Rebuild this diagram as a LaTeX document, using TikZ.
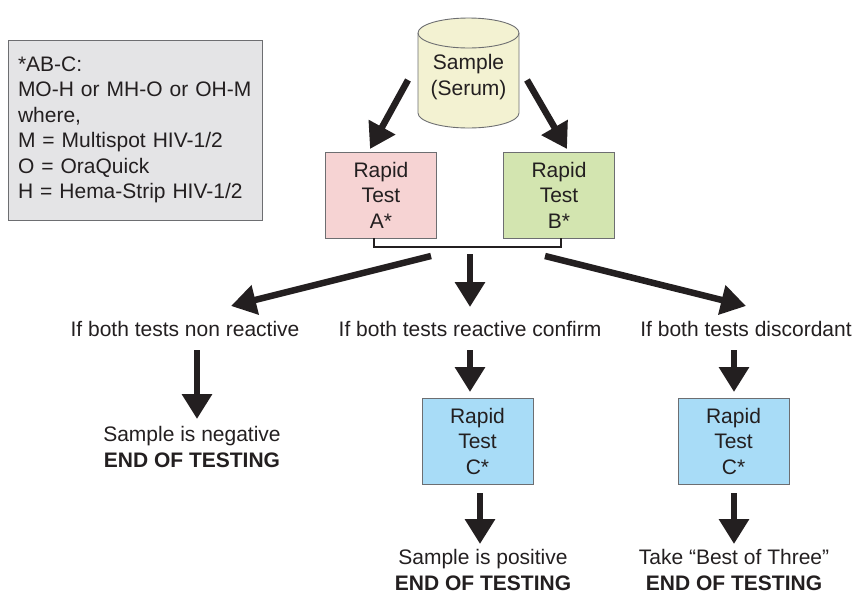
\documentclass[tikz,border=0pt]{standalone}
\usepackage{fontspec}
\setmainfont{Liberation Sans}
\usetikzlibrary{arrows.meta,calc}
\definecolor{ink}{HTML}{231F20}
\definecolor{edge}{HTML}{6D6E71}
\definecolor{legendfill}{HTML}{E4E4E6}
\definecolor{cylfill}{HTML}{F3F2D2}
\definecolor{afill}{HTML}{F6D3D3}
\definecolor{bfill}{HTML}{D3E5B0}
\definecolor{cfill}{HTML}{A8DCF7}
\tikzset{
  txt/.style={font=\fontsize{21}{25.5}\selectfont, text=ink, align=center, inner sep=0pt},
  testbox/.style={txt, draw=edge, line width=0.9pt, minimum width=111pt, minimum height=86pt},
  bigarrow/.style={draw=ink, line width=6.5pt, -{Triangle[width=29pt,length=25pt]}},
  bracketline/.style={draw=ink, line width=1.3pt}
}
\begin{document}
\begin{tikzpicture}[x=1pt,y=-1pt]
\useasboundingbox (0,0) rectangle (856,595);
% legend
\node[txt, draw=edge, line width=0.9pt, fill=legendfill, align=left, text width=234pt,
      minimum width=254pt, minimum height=180pt, inner xsep=10pt] (legend) at (135,130)
  {*AB-C:\\MO-H or MH-O or OH-M\\where,\\M = Multispot HIV-1/2\\O = OraQuick\\H = Hema-Strip HIV-1/2};
% cylinder
\filldraw[fill=cylfill, draw=edge, line width=0.9pt]
  (418,33) -- (418,113) arc[start angle=180, end angle=360, x radius=50.5pt, y radius=15pt]
  -- (519,33) arc[start angle=0, end angle=180, x radius=50.5pt, y radius=15pt] -- cycle;
\draw[draw=edge, line width=0.9pt] (418,33) arc[start angle=180, end angle=360, x radius=50.5pt, y radius=15pt];
\node[txt] (sample) at (468.5,77) {Sample\\(Serum)};
% tests A and B
\node[testbox, fill=afill] (A) at (381,195) {Rapid\\Test\\A*};
\node[testbox, fill=bfill] (B) at (559,195) {Rapid\\Test\\B*};
\coordinate (sa) at (408,80);
\coordinate (ta) at (370,149);
\coordinate (sb) at (527,80);
\coordinate (tb) at (567,149);
\draw[bigarrow] (sa) -- (ta);
\draw[bigarrow] (sb) -- (tb);
% bracket
\coordinate (bl) at (374,247);
\coordinate (br) at (561,247);
\draw[bracketline] (A.south -| bl) -- (bl) -- (br) -- (B.south -| br);
% branch labels
\node[txt] (nonreact) at (185,329) {If both tests non reactive};
\node[txt] (react) at (470,329) {If both tests reactive confirm};
\node[txt] (disc) at (746,329) {If both tests discordant};
\coordinate (s1) at (431,256);
\coordinate (t1) at (231,306);
\coordinate (s2) at (470,254);
\coordinate (t2) at (470,307);
\coordinate (s3) at (545,256);
\coordinate (t3) at (746,306);
\draw[bigarrow] (s1) -- (t1);
\draw[bigarrow] (s2) -- (t2);
\draw[bigarrow] (s3) -- (t3);
% negative outcome
\node[txt] (neg) at (192,447) {Sample is negative\\\textbf{END OF TESTING}};
\coordinate (n1) at (197,350);
\coordinate (n2) at (197,419);
\draw[bigarrow] (n1) -- (n2);
% C tests
\node[testbox, fill=cfill] (C1) at (477.5,441) {Rapid\\Test\\C*};
\node[testbox, fill=cfill] (C2) at (733.5,441) {Rapid\\Test\\C*};
\coordinate (m1) at (470,350);
\coordinate (m2) at (470,392);
\coordinate (r1) at (734,350);
\coordinate (r2) at (734,392);
\draw[bigarrow] (m1) -- (m2);
\draw[bigarrow] (r1) -- (r2);
% final outcomes
\node[txt] (pos) at (483,570) {Sample is positive\\\textbf{END OF TESTING}};
\node[txt] (best) at (734,570) {Take “Best of Three”\\\textbf{END OF TESTING}};
\coordinate (p1) at (480,493);
\coordinate (p2) at (480,544);
\coordinate (q1) at (734,493);
\coordinate (q2) at (734,544);
\draw[bigarrow] (p1) -- (p2);
\draw[bigarrow] (q1) -- (q2);
\end{tikzpicture}
\end{document}
